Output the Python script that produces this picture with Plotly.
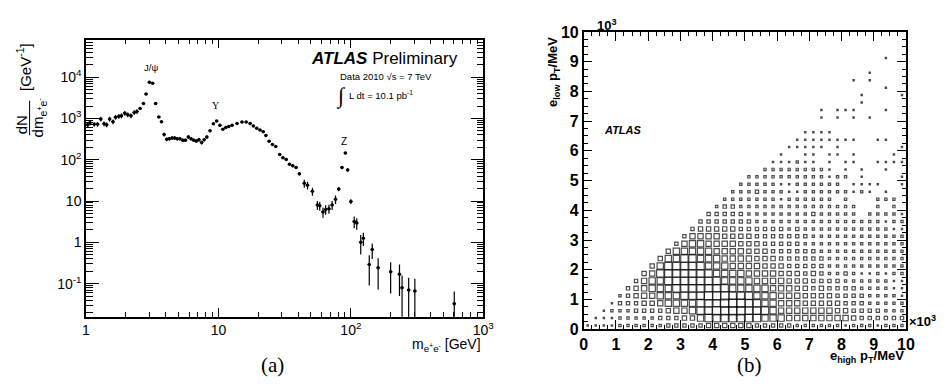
import plotly.graph_objects as go

# ---------------- Panel (a): dN/dm vs m_ee ----------------
mass = [1.030, 1.071, 1.154, 1.222, 1.293, 1.370, 1.433, 1.508, 1.599, 1.671, 1.771, 1.852,
        1.963, 2.067, 2.187, 2.314, 2.424, 2.564, 2.718, 2.842, 3.011, 3.187, 3.355, 3.550,
        3.718, 3.895, 4.072, 4.263, 4.465, 4.668, 4.890, 5.121, 5.391, 5.636, 5.934, 6.215,
        6.509, 6.806, 7.128, 7.465, 7.804, 8.172, 8.647, 9.164, 9.697, 10.26, 10.80, 11.37,
        11.97, 12.69, 13.82, 15.06, 16.21, 17.36, 18.36, 19.46, 20.60, 21.79, 22.82, 24.15,
        25.59, 27.08, 29.00, 30.69, 32.53, 34.42, 36.42, 38.60, 40.86, 44.50, 47.09, 51.29,
        55.87, 58.21, 61.6, 64.5, 68.3, 72.2, 76.6, 81.0, 85.7, 90.9, 94.5, 100.0,
        106.0, 110.8, 118.7, 124.3, 137.7, 145.0, 160.7, 199.7, 232.9, 243.6, 273.2, 304.2,
        603.6]
dndm = [707, 787, 719, 719, 974, 746, 707, 974, 830, 1066, 1125, 1161,
        1341, 1225, 1161, 1392, 1468, 1751, 2285, 3893, 7499, 7111, 2285, 1083,
        830, 408, 313, 323, 335, 335, 323, 323, 297, 297, 354, 323,
        297, 286, 306, 261, 306, 354, 505, 746, 861, 681, 551, 603,
        636, 681, 758, 817, 817, 758, 660, 581, 522, 479, 387, 281,
        235, 208, 133, 111, 102, 78.3, 71.5, 65.3, 45.9, 26.9, 24.2, 17.2,
        8.04, 7.74, 5.45, 6.26, 6.49, 8.04, 11.07, 19.6, 65.3, 145, 56.8, 9.79,
        3.20, 2.92, 1.005, 1.26, 0.290, 0.667, 0.242, 0.193, 0.170, 0.0791, 0.0700, 0.0664,
        0.0327]
dndm_err = [92, 102, 93, 93, 127, 97, 92, 127, 108, 139, 146, 151,
            174, 159, 151, 181, 191, 105, 137, 234, 450, 427, 137, 65,
            50, 41, 31, 32, 34, 34, 32, 32, 30, 30, 35, 32,
            30, 29, 31, 26, 31, 35, 40, 45, 52, 41, 33, 36,
            38, 41, 45, 49, 49, 45, 40, 35, 31, 29, 23, 17,
            14, 12, 8, 7, 6.5, 5.5, 5.3, 5.2, 4.2, 6, 5.3, 3.8,
            2.0, 1.9, 1.5, 1.6, 1.6, 2.0, 2.6, 2.4, 5.5, 9, 5, 1.3,
            1.0, 0.9, 0.5, 0.45, 0.2, 0.27, 0.17, 0.135, 0.12, 0.078, 0.069, 0.065,
            0.032]

xa_tickvals = [1, 10, 100, 1000]
xa_ticktext = ["1", "10", "10<sup>2</sup>", "10<sup>3</sup>"]
ya_tickvals = [0.1, 1, 10, 100, 1000, 10000]
ya_ticktext = ["10<sup>-1</sup>", "1", "10", "10<sup>2</sup>", "10<sup>3</sup>", "10<sup>4</sup>"]

# ---------------- Panel (b): box histogram, 40x40 bins of 0.25 (x10^3 MeV) ----------------
# one string per y-bin row (row 0 = bottom), one digit per x-bin = box size level
box_rows = [
    "1111222222 3333344444 4333332222 2212221222",
    "0111222223 3344677777 7766655555 5554333333",
    "0012223333 4556778888 7776555555 5443333222",
    "0001333445 6666777888 7766555444 4433322222",
    "0000234556 6677788877 7666555444 4333322221",
    "0000034566 6777777766 6665554434 3333222211",
    "0000003566 7777777666 6555544433 3322222211",
    "0000000457 7777776666 5555444343 2232112122",
    "0000000046 7777766655 5544433333 2222222222",
    "0000000004 6677666555 5444333333 2222222222",
    "0000000000 4666665555 4443333332 2222222222",
    "0000000000 0356655554 4433333222 2222222222",
    "0000000000 0035555444 4333333322 2222222222",
    "0000000000 0003444443 3333323222 2222222211",
    "0000000000 0000333333 3222222222 2222222122",
    "0000000000 0000033333 2222222232 2222022221",
    "0000000000 0000002332 2222222222 2222002020",
    "0000000000 0000000222 2222122222 2020002220",
    "0000000000 0000000022 2322211222 2221210100",
    "0000000000 0000000002 2222112222 2201111001",
    "0000000000 0000000000 2222222222 1220100001",
    "0000000000 0000000000 0022222222 1010100100",
    "0000000000 0000000000 0001112110 1011001111",
    "0000000000 0000000000 0000100110 1101000010",
    "0000000000 0000000000 0000011111 0100000001",
    "0000000000 0000000000 0000001111 1111001100",
    "0000000000 0000000000 0000000111 1000000000",
    "0000000000 0000000000 0000000000 0000000000",
    "0000000000 0000000000 0000000001 0101010000",
    "0000000000 0000000000 0000000001 0111000100",
    "0000000000 0000000000 0000000000 0000100000",
    "0000000000 0000000000 0000000000 0000100001",
    "0000000000 0000000000 0000000000 0000000100",
    "0000000000 0000000000 0000000000 0001010000",
    "0000000000 0000000000 0000000000 0000010000",
    "0000000000 0000000000 0000000000 0000000000",
    "0000000000 0000000000 0000000000 0000000100",
]
bin_width = 0.25
xb_ticks = list(range(0, 11))
yb_ticks = list(range(0, 11))

bx, by, bs = [], [], []
for j, row in enumerate(box_rows):
    cells = row.replace(" ", "")
    for i, ch in enumerate(cells):
        lvl = int(ch)
        if lvl > 0:
            bx.append((i + 0.5) * bin_width)
            by.append((j + 0.5) * bin_width)
            bs.append(lvl)

W, H = 949, 387
def px(x):
    return x / W
def py(y):
    return 1 - y / H

fig = go.Figure()

fig.add_trace(go.Scatter(
    x=mass, y=dndm, mode="markers",
    marker=dict(symbol="circle", size=3.5, color="black"),
    error_y=dict(type="data", array=dndm_err, thickness=1.2, width=0, color="black"),
    error_x=dict(type="percent", value=2.9, thickness=1, width=0, color="black"),
    xaxis="x", yaxis="y", showlegend=False, hoverinfo="skip"))

fig.add_trace(go.Scatter(
    x=bx, y=by, mode="markers",
    marker=dict(symbol="square-open", size=[s * 1.0 + 0.3 for s in bs], color="#000000",
                line=dict(width=1.2, color="#000000")),
    xaxis="x2", yaxis="y2", showlegend=False, hoverinfo="skip"))

axis_common = dict(showline=True, linecolor="black", linewidth=1.5, mirror="allticks",
                   ticks="inside", tickcolor="black", showgrid=False, zeroline=False)

minor_x = [d * 10 ** e for e in range(0, 3) for d in range(2, 10)]
minor_y = [d * 10 ** e for e in range(-2, 5) for d in range(2, 10)]

fig.update_layout(
    width=W, height=H, margin=dict(l=0, r=0, t=0, b=0),
    paper_bgcolor="white", plot_bgcolor="white",
    font=dict(family="Liberation Sans, Arial, sans-serif", color="black"),
    xaxis=dict(axis_common, type="log", range=[0, 3], domain=[px(83.3), px(487)],
               tickmode="array", tickvals=xa_tickvals, ticktext=xa_ticktext,
               ticklen=9, tickwidth=1,
               minor=dict(tickmode="array", tickvals=minor_x, ticks="inside", ticklen=5,
                          tickcolor="black", showgrid=False),
               tickfont=dict(size=14), anchor="y"),
    yaxis=dict(axis_common, type="log", range=[-1.803, 4.910], domain=[py(323), py(33)],
               tickmode="array", tickvals=ya_tickvals, ticktext=ya_ticktext,
               ticklen=13, tickwidth=1,
               minor=dict(tickmode="array", tickvals=minor_y, ticks="inside", ticklen=7,
                          tickcolor="black", showgrid=False),
               tickfont=dict(size=14), anchor="x"),
    xaxis2=dict(axis_common, range=[0, 10], domain=[px(589), px(916.5)],
                tickmode="array", tickvals=xb_ticks, ticktext=[str(v) for v in xb_ticks],
                ticklen=9, tickwidth=1,
                minor=dict(dtick=0.25, ticks="inside", ticklen=4.5, tickcolor="black", showgrid=False),
                tickfont=dict(size=16, family="Liberation Sans, Arial", weight="bold"), anchor="y2"),
    yaxis2=dict(axis_common, range=[0, 10], domain=[py(336), py(25)],
                tickmode="array", tickvals=yb_ticks, ticktext=[str(v) for v in yb_ticks],
                ticklen=9, tickwidth=1,
                minor=dict(dtick=0.25, ticks="inside", ticklen=4.5, tickcolor="black", showgrid=False),
                tickfont=dict(size=16, family="Liberation Sans, Arial", weight="bold"), anchor="x2"),
)

ann = []
def A(text, x, y, size, xanchor="center", yanchor="middle", angle=0, family=None, **kw):
    d = dict(text=text, x=px(x), y=py(y), xref="paper", yref="paper", showarrow=False,
             xanchor=xanchor, yanchor=yanchor, textangle=angle,
             font=dict(size=size, color="black", family=family or "Liberation Sans, Arial"))
    d.update(kw)
    ann.append(d)

# panel (a) texts
A("<b><i>ATLAS</i></b> Preliminary", 310, 53, 17, xanchor="left")
A("Data 2010 √s = 7 TeV", 339, 72, 9.5, xanchor="left")
A("∫", 342, 92, 22, family="Liberation Serif")
A("L dt = 10.1 pb<sup>-1</sup>", 349, 91, 9.5, xanchor="left")
A("J/ψ", 149, 62, 9.5)
A("Υ", 215, 102, 10, family="Liberation Serif")
A("Z", 345, 140, 10)
A("m<sub>e<sup>+</sup>e<sup>-</sup></sub> [GeV]", 487, 352, 14, xanchor="right")
A("[GeV<sup>-1</sup>]", 20, 62, 15, angle=-90)
A("dN", 18, 122, 15, angle=-90)
A("dm<sub>e<sup>+</sup>e<sup>-</sup></sub>", 36, 114, 15, angle=-90)
A("(a)", 273, 373, 21, family="Liberation Serif")

# panel (b) texts
A("<b><i>ATLAS</i></b>", 608, 128, 11, xanchor="left")
A("<b>10<sup>3</sup></b>", 600, 18, 13, xanchor="left")
A("<b>×10<sup>3</sup></b>", 917, 327, 13, xanchor="left")
A("<b>e<sub>high</sub> p<sub>T</sub>/MeV</b>", 916, 364, 13, xanchor="right")
A("<b>e<sub>low</sub> p<sub>T</sub>/MeV</b>", 559, 28, 13, yanchor="top", angle=-90)
A("(b)", 757, 373, 21, family="Liberation Serif")

fig.update_layout(annotations=ann,
                  shapes=[dict(type="line", xref="paper", yref="paper",
                               x0=px(26), x1=px(26), y0=py(97), y1=py(133),
                               line=dict(color="black", width=1))])

fig.write_html("out.html", config={"displayModeBar": False},
               post_script="document.body.style.margin='0';")
